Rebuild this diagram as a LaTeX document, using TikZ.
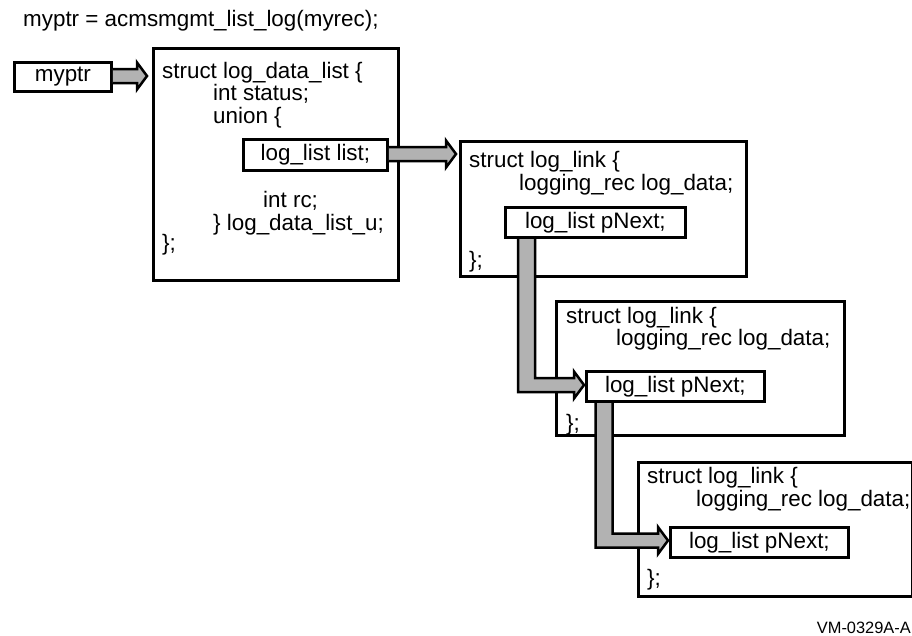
\documentclass[tikz,border=0pt]{standalone}
\usepackage{fontspec}
\setmainfont{Liberation Sans}
\usetikzlibrary{calc}
\newcommand{\harrowpath}[2]{%
  \draw[fat] let \p1=(#1), \p2=(#2) in
    (\x1,\y2+7pt) -- (\x2-10pt,\y2+7pt) -- (\x2-10pt,\y2+13.5pt) -- (\x2,\y2)
    -- (\x2-10pt,\y2-13.5pt) -- (\x2-10pt,\y2-7pt) -- (\x1,\y2-7pt);}
\newcommand{\larrowpath}[2]{%
  \draw[fat] let \p1=(#1), \p2=(#2) in
    (\x1-8.5pt,\y1) -- (\x1-8.5pt,\y2-7pt) -- (\x2-10pt,\y2-7pt) -- (\x2-10pt,\y2-13.5pt)
    -- (\x2,\y2) -- (\x2-10pt,\y2+13.5pt) -- (\x2-10pt,\y2+7pt) -- (\x1+8.5pt,\y2+7pt)
    -- (\x1+8.5pt,\y1);}
\begin{document}
\begin{tikzpicture}[x=1pt,y=-1pt,
  box/.style={draw, line width=2.8pt, rectangle, inner sep=0pt, anchor=north west},
  wbox/.style={box, fill=white, font=\fontsize{22.4}{26}\selectfont},
  txt/.style={anchor=base west, inner sep=0pt, font=\fontsize{22.4}{26}\selectfont},
  fat/.style={draw, line width=2.5pt, fill=black!30, line join=miter}]
\fill[white] (0,0) rectangle (912,635);
\useasboundingbox (0,0) rectangle (912,635);

% caption line
\node[txt] (call) at (23,26) {myptr = acmsmgmt\_list\_log(myrec);};

% outer boxes
\node[box, minimum width=245pt, minimum height=232pt] (A) at (152,47) {};
\node[box, minimum width=286pt, minimum height=135pt] (B) at (459,140) {};
\node[box, minimum width=288pt, minimum height=134pt] (C) at (555,300) {};
\node[box, minimum width=273.5pt, minimum height=134pt] (D) at (637,461) {};

% inner boxes
\node[wbox, minimum width=97pt, minimum height=29pt] (myptr) at (13,61) {myptr};
\node[wbox, minimum width=144pt, minimum height=31pt] (list) at (242,138) {log\_list list;};

% arrow tips and starts
\coordinate (tip1) at (147,76);
\coordinate (tip2) at (456,154);
\coordinate (sB) at (526.5,236);
\coordinate (tipC) at (584,385);
\coordinate (sC) at (604,400);
\coordinate (tipD) at (668,540.5);

% fat arrows
\harrowpath{myptr.east}{tip1}
\harrowpath{list.east}{tip2}
\larrowpath{sB}{tipC}
\larrowpath{sC}{tipD}

% pNext boxes (drawn over the arrows' ends)
\node[wbox, minimum width=180pt, minimum height=30pt] (pB) at (504,206) {log\_list pNext;};
\node[wbox, minimum width=178pt, minimum height=30pt] (pC) at (585,370) {log\_list pNext;};
\node[wbox, minimum width=178pt, minimum height=30pt] (pD) at (669,526) {log\_list pNext;};

% box A text
\node[txt] (a1) at (162,78) {struct log\_data\_list \{};
\node[txt] (a2) at (213,100) {int status;};
\node[txt] (a3) at (213,123) {union \{};
\node[txt] (a4) at (263,207) {int rc;};
\node[txt] (a5) at (213,230) {\} log\_data\_list\_u;};
\node[txt] (a6) at (162,250) {\};};

% box B text
\node[txt] (b1) at (469,167) {struct log\_link \{};
\node[txt] (b2) at (519,190) {logging\_rec log\_data;};
\node[txt] (b3) at (469,267) {\};};

% box C text
\node[txt] (c1) at (566,323) {struct log\_link \{};
\node[txt] (c2) at (616,345) {logging\_rec log\_data;};
\node[txt] (c3) at (566,430) {\};};

% box D text
\node[txt] (d1) at (647,483) {struct log\_link \{};
\node[txt] (d2) at (696,506) {logging\_rec log\_data;};
\node[txt] (d3) at (647,585) {\};};

% figure id
\node[anchor=base east, inner sep=0pt, font=\fontsize{16.4}{19}\selectfont] (fig) at (911,633) {VM-0329A-A};
\end{tikzpicture}
\end{document}
